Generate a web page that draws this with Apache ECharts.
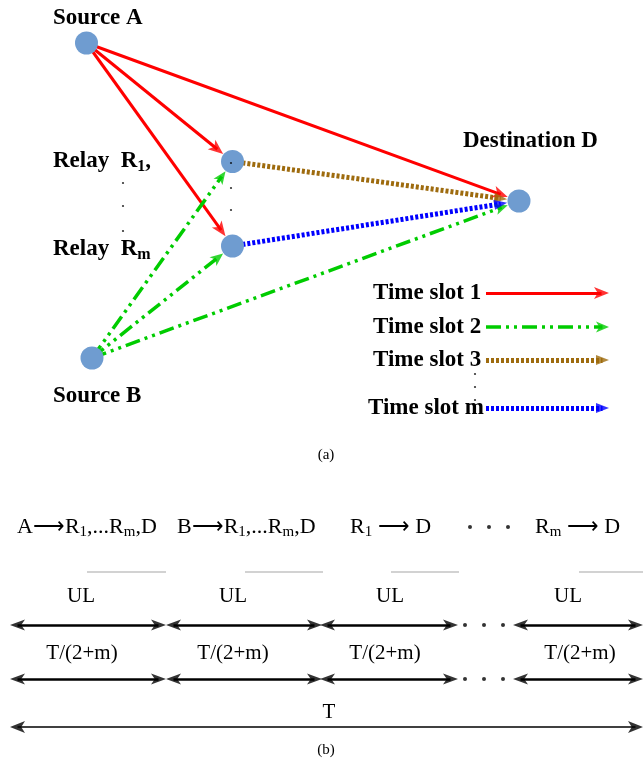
<!DOCTYPE html>
<html><head><meta charset="utf-8">
<script src="https://cdn.jsdelivr.net/npm/echarts@6/dist/echarts.min.js"></script>
<style>html,body{margin:0;padding:0;background:#fff}#c{width:643px;height:770px}</style>
</head><body><div id="c"></div>
<script>
// ---------- (a) network: nodes (diagram units, y downward) ----------
const nodeNames = ['A', 'R1', 'Rm', 'B', 'D'];
const nodeX = [86.5, 232.5, 232.5, 92, 519];
const nodeY = [43, 161.5, 246, 358, 201];

// transmissions and the time slot in which each happens
const edgeFrom = ['A', 'A', 'A', 'B', 'B', 'B', 'R1', 'Rm'];
const edgeTo   = ['R1', 'Rm', 'D', 'R1', 'Rm', 'D', 'D', 'D'];
const edgeSlot = [0, 0, 0, 1, 1, 1, 2, 3];

// node captions
const nodeLabelText = ['{b|Source A}', '{b|Relay  R}{bs|1}{b|,}', '{b|Relay  R}{bs|m}', '{b|Source B}', '{b|Destination D}'];
const nodeLabelX = [53, 53, 53, 53, 463];
const nodeLabelY = [18, 161, 249, 396, 141];

// legend (time slots)
const slotNames = ['Time slot 1', 'Time slot 2', 'Time slot 3', 'Time slot m'];
const slotLabelX = [373, 373, 373, 368];
const slotY = [293, 327, 360, 408];
const slotLineX = [486, 609];

// vertical ellipsis dots in (a)
const dotsAX = [123, 123, 123, 231, 231, 231, 475, 475, 475];
const dotsAY = [183, 206, 231, 163, 188, 210, 374, 387, 400];

// ---------- (b) frame structure ----------
const phaseText = ['{p|A⟶R}{s|1}{p|,...R}{s|m}{p|,D}', '{p|B⟶R}{s|1}{p|,...R}{s|m}{p|,D}', '{p|R}{s|1}{p| ⟶ D}', '{p|R}{s|m}{p| ⟶ D}'];
const phaseX = [17, 177, 350, 535];
const phaseY = 527;
const phaseDotsX = [470, 489, 508];
const grayStart = [87, 245, 391, 579];
const grayEnd = [166, 323, 459, 643];
const grayY = 572;
const ulText = ['UL', 'UL', 'UL', 'UL'];
const ulX = [81, 233, 390, 568];
const ulY = 596;
const durText = ['T/(2+m)', 'T/(2+m)', 'T/(2+m)', 'T/(2+m)'];
const durX = [82, 233, 385, 580];
const durY = 653;
const segStart = [10, 166, 320, 513];
const segEnd = [166, 322, 458, 643];
const rowY = [625, 679];
const rowDotsX = [465, 484, 503];
const totalStart = 10, totalEnd = 643, totalY = 727;
const totalText = 'T', totalTextX = 329, totalTextY = 712;
const captions = ['(a)', '(b)'];
const captionX = [326, 326];
const captionY = [455, 750];

// ---------- styles ----------
const SERIF = '"Liberation Serif","Times New Roman",serif';
const NODE_COLOR = '#6F9CD0';
const NOTCH = 'path://M5,0 L10,14 L5,10.5 L0,14 Z';
const TRI = 'path://M5,0 L10,14 L0,14 Z';
const slotStyle = [
  { color: '#FF0000', width: 3, type: 'solid', head: NOTCH, hw: 12, hl: 15 },
  { color: '#00CC00', width: 3.5, type: [15, 5, 3, 5, 3, 5], head: NOTCH, hw: 11, hl: 13 },
  { color: '#9E6B0E', width: 5, type: [3, 2], head: TRI, hw: 10, hl: 13 },
  { color: '#0000FF', width: 5, type: [3, 2], head: TRI, hw: 10, hl: 13 }
];
const NODE_R = 11.5;

function geom(x1, y1, x2, y2, trimEnd, hl, both) {
  const dx = x2 - x1, dy = y2 - y1, L = Math.hypot(dx, dy), ux = dx / L, uy = dy / L;
  const tx = x2 - ux * trimEnd, ty = y2 - uy * trimEnd;
  const heads = [{ p: [tx - ux * hl / 2, ty - uy * hl / 2], rot: Math.atan2(-ux, -uy) * 180 / Math.PI }];
  let sx = x1, sy = y1;
  if (both) {
    heads.push({ p: [x1 + ux * hl / 2, y1 + uy * hl / 2], rot: Math.atan2(ux, uy) * 180 / Math.PI });
    sx = x1 + ux * hl * 0.5; sy = y1 + uy * hl * 0.5;
  }
  return { line: [[sx, sy], [tx - ux * hl * 0.5, ty - uy * hl * 0.5]], heads };
}

const series = [];
const headData = [];
slotStyle.forEach((st, s) => {
  const data = [];
  edgeFrom.forEach((f, i) => {
    if (edgeSlot[i] !== s) return;
    const a = nodeNames.indexOf(f), b = nodeNames.indexOf(edgeTo[i]);
    const g = geom(nodeX[a], nodeY[a], nodeX[b], nodeY[b], NODE_R + 0.5, st.hl, false);
    data.push({ coords: g.line });
    g.heads.forEach(h => headData.push({ value: h.p, symbol: st.head, symbolSize: [st.hw, st.hl], symbolRotate: h.rot, itemStyle: { color: st.color } }));
  });
  const g = geom(slotLineX[0], slotY[s], slotLineX[1], slotY[s], 0, st.hl, false);
  data.push({ coords: [[slotLineX[0], slotY[s]], g.line[1]] });
  g.heads.forEach(h => headData.push({ value: h.p, symbol: st.head, symbolSize: [st.hw, st.hl], symbolRotate: h.rot, itemStyle: { color: st.color } }));
  series.push({
    type: 'lines', coordinateSystem: 'cartesian2d', z: 2, silent: true,
    lineStyle: { color: st.color, width: st.width, type: st.type, cap: 'butt', opacity: 1, curveness: 0 },
    data
  });
});

const blackData = [], blackThin = [];
rowY.forEach(y => {
  segStart.forEach((x0, i) => {
    const g = geom(x0, y, segEnd[i], y, 0, 15, true);
    blackData.push({ coords: g.line });
    g.heads.forEach(h => headData.push({ value: h.p, symbol: NOTCH, symbolSize: [11, 15], symbolRotate: h.rot, itemStyle: { color: '#000' } }));
  });
});
{
  const g = geom(totalStart, totalY, totalEnd, totalY, 0, 15, true);
  blackThin.push({ coords: g.line });
  g.heads.forEach(h => headData.push({ value: h.p, symbol: NOTCH, symbolSize: [12, 15], symbolRotate: h.rot, itemStyle: { color: '#000' } }));
}
series.push({ type: 'lines', coordinateSystem: 'cartesian2d', z: 2, silent: true,
  lineStyle: { color: '#000', width: 2.5, opacity: 1, cap: 'butt' }, data: blackData });
series.push({ type: 'lines', coordinateSystem: 'cartesian2d', z: 2, silent: true,
  lineStyle: { color: '#000', width: 1.5, opacity: 1, cap: 'butt' }, data: blackThin });
series.push({ type: 'lines', coordinateSystem: 'cartesian2d', z: 1, silent: true,
  lineStyle: { color: '#d2d2d2', width: 2, opacity: 1, cap: 'butt' },
  data: grayStart.map((x, i) => ({ coords: [[x, grayY], [grayEnd[i], grayY]] })) });

series.push({ type: 'scatter', z: 3, silent: true, data: headData });

series.push({ type: 'scatter', z: 4, silent: true, symbolSize: 2 * NODE_R,
  itemStyle: { color: NODE_COLOR, opacity: 1 },
  data: nodeX.map((x, i) => [x, nodeY[i]]) });

const dotData = [];
dotsAX.forEach((x, i) => dotData.push({ value: [x, dotsAY[i]], symbolSize: 2.2 }));
phaseDotsX.forEach(x => dotData.push({ value: [x, phaseY], symbolSize: 4 }));
rowY.forEach(y => rowDotsX.forEach(x => dotData.push({ value: [x, y], symbolSize: 4 })));
series.push({ type: 'scatter', z: 5, silent: true, itemStyle: { color: '#000' }, data: dotData });

const rich = {
  b: { fontFamily: SERIF, fontWeight: 'bold', fontSize: 23, color: '#000', lineHeight: 27 },
  bs: { fontFamily: SERIF, fontWeight: 'bold', fontSize: 16, color: '#000', lineHeight: 16, verticalAlign: 'bottom' },
  n: { fontFamily: SERIF, fontSize: 21, color: '#000', lineHeight: 25 },
  p: { fontFamily: SERIF, fontSize: 22, color: '#000', lineHeight: 25 },
  s: { fontFamily: SERIF, fontSize: 15, color: '#000', lineHeight: 15, verticalAlign: 'bottom' },
  c: { fontFamily: SERIF, fontSize: 15, color: '#000', lineHeight: 18 }
};
const textData = [];
nodeLabelText.forEach((t, i) => textData.push({ value: [nodeLabelX[i], nodeLabelY[i]], txt: t, al: 'left' }));
slotNames.forEach((t, i) => textData.push({ value: [slotLabelX[i], slotY[i]], txt: '{b|' + t + '}', al: 'left' }));
phaseText.forEach((t, i) => textData.push({ value: [phaseX[i], phaseY], txt: t, al: 'left' }));
ulText.forEach((t, i) => textData.push({ value: [ulX[i], ulY], txt: '{n|' + t + '}', al: 'center' }));
durText.forEach((t, i) => textData.push({ value: [durX[i], durY], txt: '{n|' + t + '}', al: 'center' }));
textData.push({ value: [totalTextX, totalTextY], txt: '{n|' + totalText + '}', al: 'center' });
captions.forEach((t, i) => textData.push({ value: [captionX[i], captionY[i]], txt: '{c|' + t + '}', al: 'center' }));
series.push({
  type: 'scatter', z: 6, silent: true, symbolSize: 0,
  itemStyle: { opacity: 1 },
  data: textData.map(d => ({ value: d.value, txt: d.txt, label: { align: d.al } })),
  label: { show: true, position: [0, 0], verticalAlign: 'middle', color: '#000', opacity: 1,
    textBorderWidth: 0, formatter: p => p.data.txt, rich }
});

const chart = echarts.init(document.getElementById('c'), null, { renderer: 'canvas' });
chart.setOption({
  animation: false,
  backgroundColor: '#fff',
  grid: { left: 0, right: 0, top: 0, bottom: 0 },
  xAxis: { type: 'value', min: 0, max: 643, show: false },
  yAxis: { type: 'value', min: 0, max: 770, inverse: true, show: false },
  series
});
</script></body></html>
